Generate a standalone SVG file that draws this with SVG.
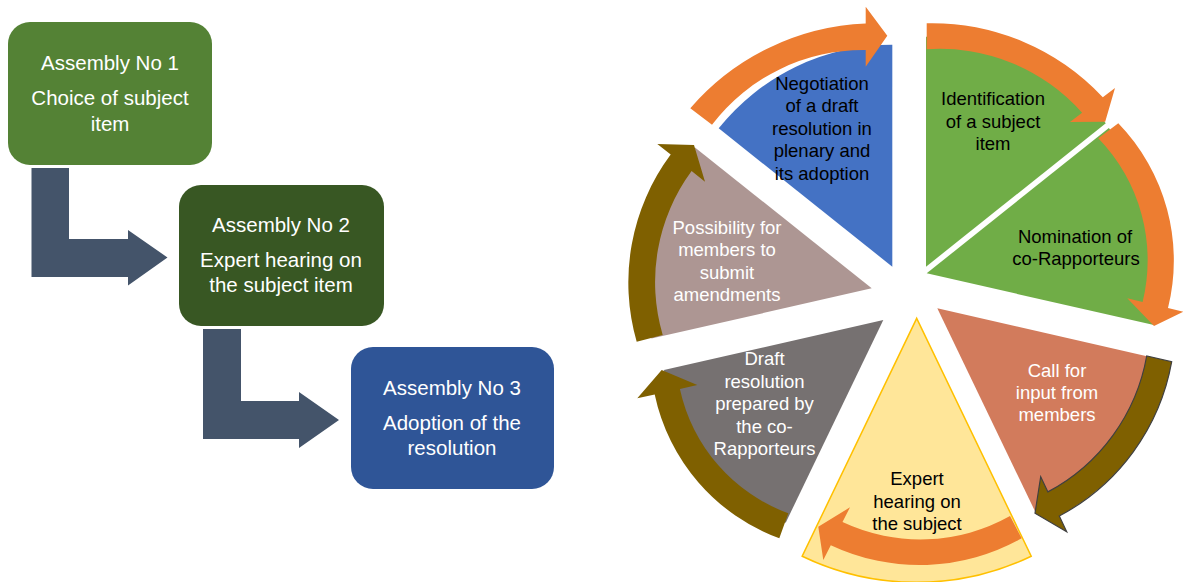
<svg xmlns="http://www.w3.org/2000/svg" width="1184" height="582" viewBox="0 0 1184 582">
<style>
.bt{font-family:"Liberation Sans",Arial,sans-serif;font-size:20.5px;fill:#ffffff;text-anchor:middle}
.pt{font-family:"Liberation Sans",Arial,sans-serif;font-size:18.5px;text-anchor:middle}
.dk{fill:#000000}
.wh{fill:#ffffff}
.bent{fill:#44546A}
.oa{fill:#ED7D31}
.ba{fill:#7F6000}
</style>
<rect width="1184" height="582" fill="#ffffff"/>
<g id="connectors">
<path class="bent" d="M31.5,168 H69 V239 H128 V230 L167.5,257.5 L128,285.5 V277 H31.5 Z"/>
<path class="bent" d="M203,329 H241 V401 H299 V392 L339,420 L299,448 V439 H203 Z"/>
</g>
<g id="box1">
<rect x="8" y="22" width="204" height="143" rx="22" fill="#548235"/>
<text class="bt" x="110" y="70">Assembly No 1</text>
<text class="bt" x="110" y="105">Choice of subject</text>
<text class="bt" x="110" y="131">item</text>
</g>
<g id="box2">
<rect x="179" y="185" width="205" height="141" rx="22" fill="#385723"/>
<text class="bt" x="281" y="232">Assembly No 2</text>
<text class="bt" x="281" y="267">Expert hearing on</text>
<text class="bt" x="281" y="292">the subject item</text>
</g>
<g id="box3">
<rect x="351" y="347" width="203" height="142" rx="22" fill="#2F5597"/>
<text class="bt" x="452" y="395">Assembly No 3</text>
<text class="bt" x="452" y="430">Adoption of the</text>
<text class="bt" x="452" y="455">resolution</text>
</g>
<g id="seg-negotiation">
<path d="M892.3,266.7 L718.7,128.3 A222 222 0 0 1 892.3,44.7 Z" fill="#4472C4"/>
</g>
<g id="seg-identification">
<path d="M926,266.7 L926,36.7 A230 230 0 0 1 1105.8,123.3 Z" fill="#70AD47"/>
</g>
<g id="seg-nomination">
<path d="M926.7,273.3 L1108.9,128 A233 233 0 0 1 1153.9,325.1 Z" fill="#70AD47"/>
</g>
<g id="seg-call">
<path d="M937.3,308.3 L1156.7,358.4 A225 225 0 0 1 1034.9,511 Z" fill="#D27B5C"/>
</g>
<g id="seg-expert">
<path d="M916.7,318.3 L1031.2,556.2 A264 264 0 0 1 802.2,556.2 Z" fill="#FFE699" stroke="#FFC000" stroke-width="1.5"/>
</g>
<g id="seg-draft">
<path d="M883.3,320 L785.7,522.7 A225 225 0 0 1 663.9,370.1 Z" fill="#767171"/>
</g>
<g id="seg-possibility">
<path d="M871.7,288.3 L651.4,338.6 A226 226 0 0 1 695,147.4 Z" fill="#AD9693"/>
</g>
<g id="cycle-arrows">
<path class="oa" d="M690.3,108.2 A245 245 0 0 1 865.7,23.5 L865.7,6.7 L887.3,35.7 L865.7,66.7 L865.7,50 A190 190 0 0 0 712,124.8 Z"/>
<path class="oa" d="M926.7,23.3 A234 234 0 0 1 1102.8,97.2 L1115,88 L1105.2,121.8 L1070,122 L1082.1,112.8 A190 190 0 0 0 926.7,49.3 Z"/>
<path class="oa" d="M1118.3,123.3 A197 197 0 0 1 1168,308 L1183.3,311.7 L1154,326 L1127.3,298.3 L1142.6,301.9 A175 175 0 0 0 1098.3,138.3 Z"/>
<path class="ba" stroke="#404040" stroke-width="1.2" d="M1171.7,361.7 A218 218 0 0 1 1059.3,516 L1066.7,531.7 L1035,513.3 L1040.7,476.7 L1047.9,491.9 A192 192 0 0 0 1146.7,356 Z"/>
<path class="oa" d="M1021.7,538.3 A208 208 0 0 1 830.8,545.2 L823.3,560 L818.3,526.7 L850,507.3 L842.5,522.1 A183 183 0 0 0 1010,516 Z"/>
<path class="ba" d="M779.3,538.3 A197 197 0 0 1 654.7,394.4 L637.3,398.3 L661.7,370 L697.3,385 L679.9,388.9 A171 171 0 0 0 788.3,513.3 Z"/>
<path class="ba" d="M636.7,341.7 A214 214 0 0 1 670.7,154.6 L657.3,144 L694,145 L705,181.7 L691.6,171.1 A187 187 0 0 0 662.7,335 Z"/>
</g>
<g id="labels">
<text class="pt dk" x="822" y="89.5">Negotiation</text>
<text class="pt dk" x="822" y="112">of a draft</text>
<text class="pt dk" x="822" y="134.5">resolution in</text>
<text class="pt dk" x="822" y="157">plenary and</text>
<text class="pt dk" x="822" y="179.5">its adoption</text>
<text class="pt dk" x="993" y="105">Identification</text>
<text class="pt dk" x="993" y="127.5">of a subject</text>
<text class="pt dk" x="993" y="150">item</text>
<text class="pt dk" x="1075" y="243">Nomination of</text>
<text class="pt dk" x="1076" y="265">co-Rapporteurs</text>
<text class="pt wh" x="1057" y="376.5">Call for</text>
<text class="pt wh" x="1057" y="398.5">input from</text>
<text class="pt wh" x="1057" y="420.5">members</text>
<text class="pt dk" x="917" y="485">Expert</text>
<text class="pt dk" x="917" y="507.5">hearing on</text>
<text class="pt dk" x="917" y="530">the subject</text>
<text class="pt wh" x="764.5" y="365">Draft</text>
<text class="pt wh" x="764.5" y="387.5">resolution</text>
<text class="pt wh" x="764.5" y="410">prepared by</text>
<text class="pt wh" x="764.5" y="432.5">the co-</text>
<text class="pt wh" x="764.5" y="455">Rapporteurs</text>
<text class="pt wh" x="727" y="233.5">Possibility for</text>
<text class="pt wh" x="727" y="256">members to</text>
<text class="pt wh" x="727" y="278.5">submit</text>
<text class="pt wh" x="727" y="301">amendments</text>
</g>
</svg>
